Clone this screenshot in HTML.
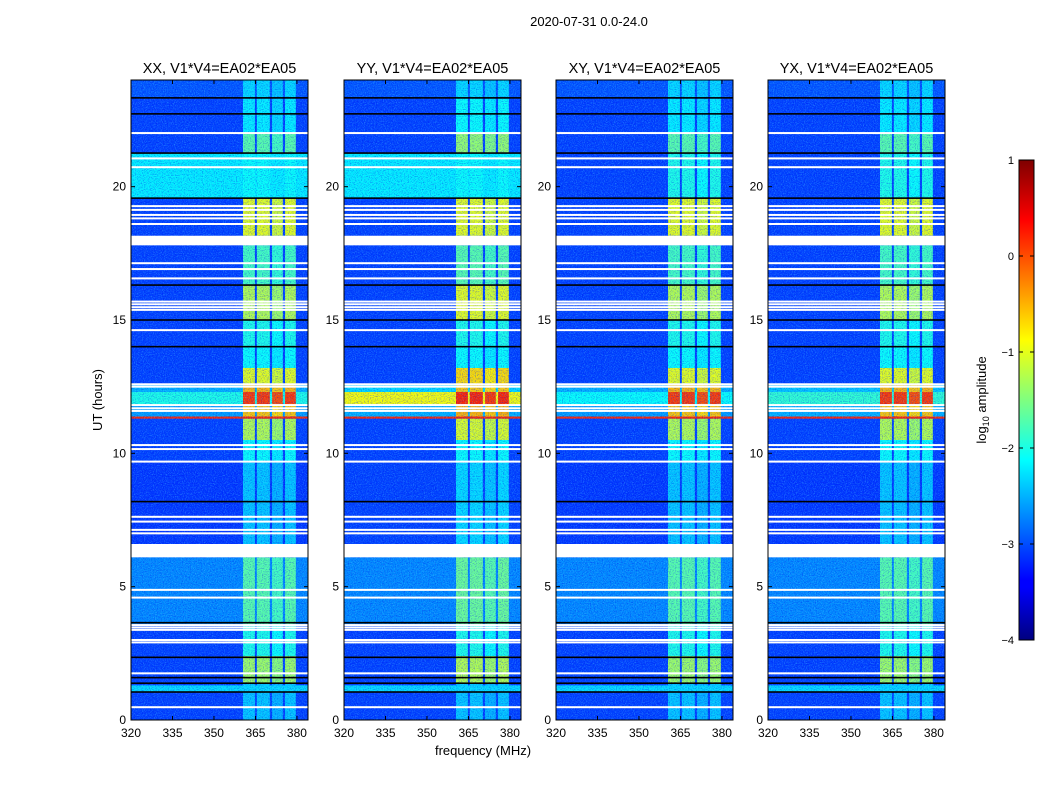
<!DOCTYPE html>
<html><head><meta charset="utf-8">
<style>
body{margin:0;background:#fff;}
svg{display:block;font-family:"Liberation Sans",sans-serif;}
</style></head>
<body>
<svg id="fig" width="1050" height="800" viewBox="0 0 1050 800" xmlns="http://www.w3.org/2000/svg">
<defs>
<filter id="noise" x="0" y="0" width="100%" height="100%">
<feTurbulence type="fractalNoise" baseFrequency="0.9" numOctaves="1" seed="3"/>
<feColorMatrix type="matrix" values="0 0 0 0 0.1  0 0 0 0 0.7  0 0 0 0 1  2.6 0 0 0 -1.2"/>
</filter>
<filter id="noise2" x="0" y="0" width="100%" height="100%">
<feTurbulence type="fractalNoise" baseFrequency="0.85" numOctaves="1" seed="11"/>
<feColorMatrix type="matrix" values="0 0 0 0 0  0 0 0 0 0  0 0 0 0 0.8  2.6 0 0 0 -1.2"/>
</filter>
<linearGradient id="jet" x1="0" y1="1" x2="0" y2="0">
<stop offset="0" stop-color="#00007f"/><stop offset="0.11" stop-color="#0000ff"/>
<stop offset="0.125" stop-color="#0000ff"/><stop offset="0.375" stop-color="#00ffff"/>
<stop offset="0.625" stop-color="#ffff00"/><stop offset="0.875" stop-color="#ff0000"/>
<stop offset="1" stop-color="#7f0000"/>
</linearGradient>
</defs>
<text x="589" y="26" font-size="13" text-anchor="middle">2020-07-31 0.0-24.0</text>
<text transform="translate(102,400) rotate(-90)" font-size="13" text-anchor="middle">UT (hours)</text>
<text x="483" y="755" font-size="13" text-anchor="middle">frequency (MHz)</text>
<g id="panels"></g>
<g>
<rect x="1019" y="160" width="15" height="480" fill="url(#jet)" stroke="#000" stroke-width="1"/>
<g id="cbticks"></g>
<text transform="translate(986,400) rotate(-90)" font-size="13" text-anchor="middle">log<tspan font-size="9" dy="3">10</tspan><tspan dy="-3"> amplitude</tspan></text>
</g>
</svg>
<script>
const panelTitles = ["XX, V1*V4=EA02*EA05","YY, V1*V4=EA02*EA05","XY, V1*V4=EA02*EA05","YX, V1*V4=EA02*EA05"];
const segT0 = [23.3, 22.0, 21.26, 19.57, 18.16, 16.3, 15.0, 14.0, 13.2, 12.6, 12.3, 11.8, 11.3, 10.5, 9.7, 6.6, 3.6, 2.4, 1.4, 0];
const segT1 = [24, 23.3, 22.0, 21.26, 19.57, 17.8, 16.3, 15.0, 14.0, 13.2, 12.6, 12.3, 11.8, 11.3, 10.5, 9.7, 6.1, 3.6, 2.4, 1.4];
const bgXX  = [-2.95,-3.05,-3.05,-2.2,-3.05,-3.05,-3.05,-3.05,-3.05,-3.05,-2.5,-2.0,-2.6,-3.05,-3.05,-3.1,-2.7,-3.05,-3.05,-3.05];
const rfiXX = [-2.3,-2.2,-1.7,-2.1,-1.0,-1.8,-1.25,-2.0,-2.1,-1.0,-0.5,0.1,-0.6,-1.25,-2.1,-2.4,-1.7,-2.0,-1.35,-2.4];
const bgYY  = [-2.95,-3.05,-3.05,-2.2,-3.05,-3.05,-3.05,-3.05,-3.05,-3.05,-2.3,-0.9,-2.5,-3.05,-3.05,-3.05,-2.7,-3.05,-3.05,-3.05];
const rfiYY = [-2.3,-2.1,-1.4,-2.1,-1.0,-1.7,-1.0,-2.0,-2.1,-0.7,-0.6,0.2,-0.5,-1.05,-2.1,-2.3,-1.6,-2.0,-1.25,-2.4];
const bgXY  = [-2.95,-3.05,-3.05,-3.05,-3.05,-3.05,-3.05,-3.05,-3.05,-3.05,-2.5,-2.1,-2.6,-3.05,-3.05,-3.1,-2.7,-3.05,-3.05,-3.05];
const rfiXY = [-2.3,-2.2,-1.7,-2.0,-1.0,-1.8,-1.25,-2.0,-2.1,-1.0,-0.5,0.1,-0.6,-1.25,-2.1,-2.4,-1.7,-2.0,-1.35,-2.4];
const bgYX  = [-2.95,-3.05,-3.05,-3.05,-3.05,-3.05,-3.05,-3.05,-3.05,-3.05,-2.4,-1.9,-2.5,-3.05,-3.05,-3.1,-2.7,-3.05,-3.05,-3.05];
const rfiYX = [-2.3,-2.2,-1.7,-2.0,-1.0,-1.8,-1.25,-2.0,-2.1,-1.0,-0.5,0.1,-0.6,-1.25,-2.1,-2.4,-1.7,-2.0,-1.35,-2.4];
const rfiF0 = [360.5, 365.5, 371.0, 375.7];
const rfiF1 = [364.8, 370.2, 374.9, 379.6];
const bandT0 = [1.05, 11.3];
const bandT1 = [1.3, 11.38];
const bandV  = [-2.3, 0.2];
const whiteLines = [22.01,21.06,20.73,19.27,19.13,18.94,18.81,18.6,17.13,16.91,16.56,15.69,15.59,15.48,15.38,14.62,12.59,12.5,11.81,11.69,11.59,10.31,10.16,9.69,7.62,7.44,7.13,7.0,4.88,4.59,3.56,3.47,3.38,3.0,2.91,1.75,0.48];
const blackLines = [23.33,22.73,21.26,19.57,16.31,15.0,14.0,8.19,3.65,2.35,1.59,1.38,1.05];
const gapT0 = [17.8, 6.1];
const gapT1 = [18.16, 6.6];
const xTicks = [320,335,350,365,380];
const yTicks = [0,5,10,15,20];
const cbTicks = [1,0,-1,-2,-3,-4];

const bgs = [bgXX,bgYY,bgXY,bgYX], rfis = [rfiXX,rfiYY,rfiXY,rfiYX];
const px0 = [131,344,556,768], PW = 177, PY0 = 80, PY1 = 720;
const F0 = 320, F1 = 384, T0 = 0, T1 = 24;
const NS = "http://www.w3.org/2000/svg";
function jet(v){
  const t = Math.max(0,Math.min(1,(v+4)/5));
  const c = x => Math.round(255*Math.max(0,Math.min(1,1.5-Math.abs(x))));
  return `rgb(${c(4*t-3)},${c(4*t-2)},${c(4*t-1)})`;
}
function yS(t){ return PY1 - (t-T0)/(T1-T0)*(PY1-PY0); }
function mk(tag, attrs, parent){
  const e = document.createElementNS(NS, tag);
  for (const k in attrs) e.setAttribute(k, attrs[k]);
  parent.appendChild(e); return e;
}
const root = document.getElementById('panels');
for (let p=0;p<4;p++){
  const x0 = px0[p];
  const xS = f => x0 + (f-F0)/(F1-F0)*PW;
  const g = mk('g',{},root);
  
  
  const bgR = mk('rect',{x:x0,y:PY0,width:PW,height:PY1-PY0,fill:jet(-3.05)},g);
  
  
  for (let i=0;i<segT0.length;i++){
    const ya = yS(segT1[i]), yb = yS(segT0[i]);
    const r = mk('rect',{x:x0,y:ya,width:PW,height:yb-ya,fill:jet(bgs[p][i])},g);
    
    
    for (let k=0;k<rfiF0.length;k++){
      const c = mk('rect',{x:xS(rfiF0[k]),y:ya,width:xS(rfiF1[k])-xS(rfiF0[k]),height:yb-ya,fill:jet(rfis[p][i]-(k==2?0.1:0))},g);
      
      
    }
  }
  for (let i=0;i<bandT0.length;i++){
    const b = mk('rect',{x:x0,y:yS(bandT1[i]),width:PW,height:yS(bandT0[i])-yS(bandT1[i]),fill:jet(bandV[i])},g);
    
    
  }
  const nz = mk('rect',{x:x0,y:PY0,width:PW,height:PY1-PY0,filter:'url(#noise)',opacity:0.45},g);
  
  
  const nz2 = mk('rect',{x:x0,y:PY0,width:PW,height:PY1-PY0,filter:'url(#noise2)',opacity:0.45},g);
  
  
  for (const t of blackLines){
    const l = mk('rect',{x:x0,y:yS(t)-0.8,width:PW,height:1.6,fill:'#000'},g);
    
    
  }
  for (const t of whiteLines){
    const l = mk('rect',{x:x0,y:yS(t)-1,width:PW,height:2,fill:'#fff'},g);
    
    
  }
  for (let i=0;i<gapT0.length;i++){
    const l = mk('rect',{x:x0,y:yS(gapT1[i]),width:PW,height:yS(gapT0[i])-yS(gapT1[i]),fill:'#fff'},g);
    
    
  }
  const fr = mk('rect',{x:x0,y:PY0,width:PW,height:PY1-PY0,fill:'none',stroke:'#000','stroke-width':1},g);
  
  
  for (const f of xTicks){
    const x = xS(f);
    mk('line',{x1:x,x2:x,y1:PY1,y2:PY1-4,stroke:'#000'},g);
    mk('line',{x1:x,x2:x,y1:PY0,y2:PY0+4,stroke:'#000'},g);
    const t = mk('text',{x:x,y:PY1+17,'font-size':12,'text-anchor':'middle'},g);
    t.textContent = f;
    
    
  }
  for (const h of yTicks){
    const y = yS(h);
    mk('line',{x1:x0,x2:x0+4,y1:y,y2:y,stroke:'#000'},g);
    mk('line',{x1:x0+PW,x2:x0+PW-4,y1:y,y2:y,stroke:'#000'},g);
    const t = mk('text',{x:x0-5,y:y+4,'font-size':12,'text-anchor':'end'},g);
    t.textContent = h;
    
    
  }
  const tt = mk('text',{x:x0+PW/2,y:73,'font-size':14.5,'text-anchor':'middle'},g);
  tt.textContent = panelTitles[p];
  
  
}
const cb = document.getElementById('cbticks');
for (const v of cbTicks){
  const y = 640 - (v+4)/5*480;
  mk('line',{x1:1019,x2:1023,y1:y,y2:y,stroke:'#000'},cb);
  mk('line',{x1:1034,x2:1030,y1:y,y2:y,stroke:'#000'},cb);
  const t = mk('text',{x:1014,y:y+4,'font-size':11,'text-anchor':'end'},cb);
  t.textContent = v<0 ? '\u2212'+(-v) : String(v);
  
  
}
</script>
</body></html>
